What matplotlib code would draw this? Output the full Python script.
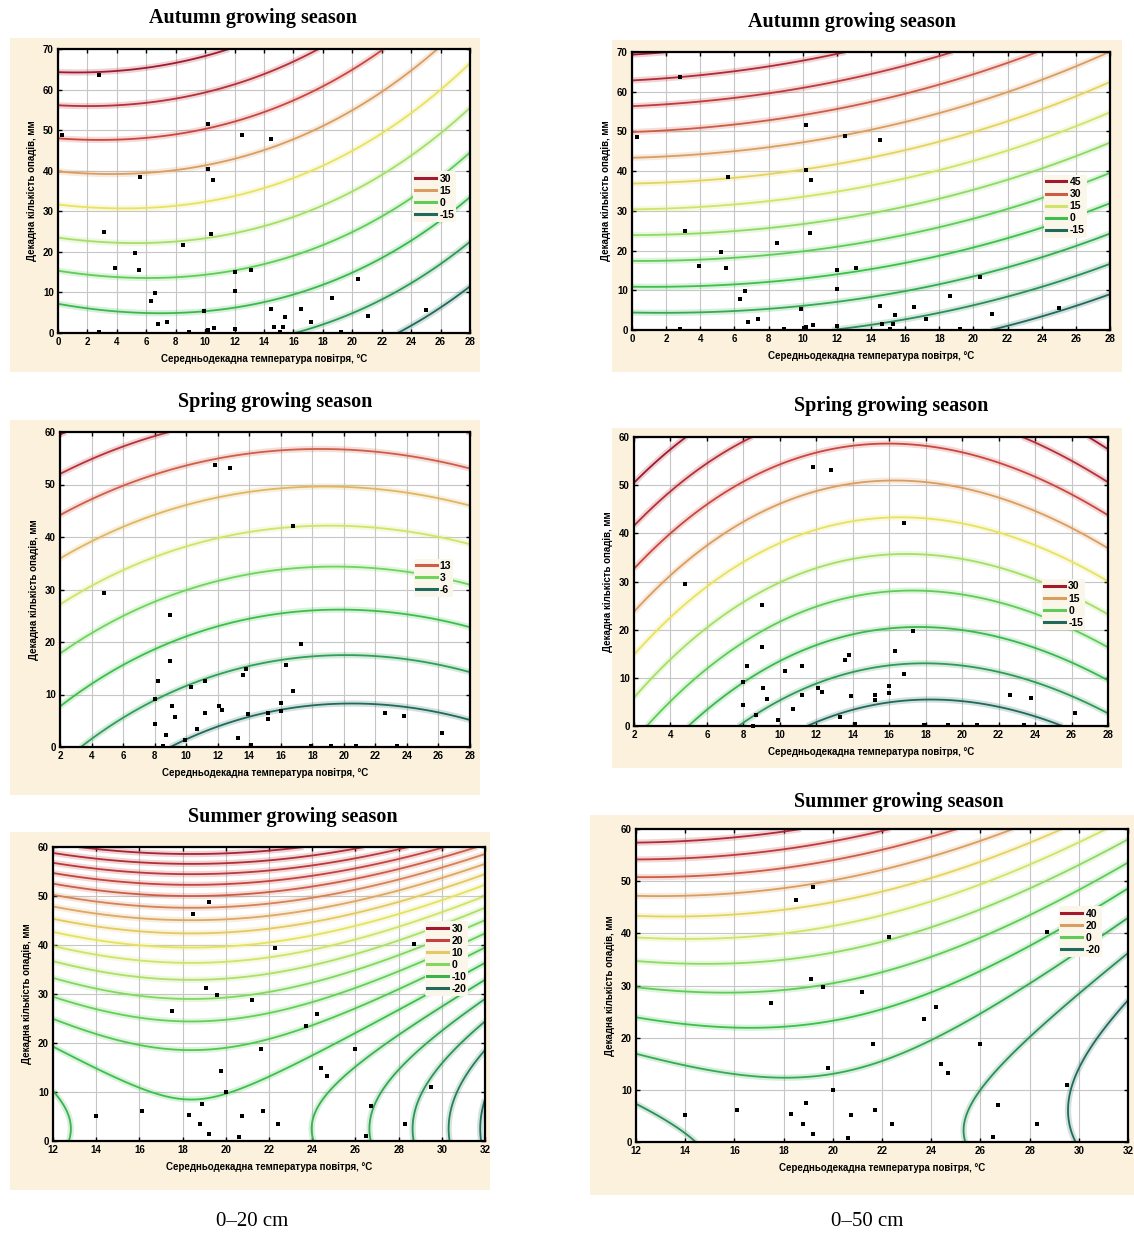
import numpy as np
import matplotlib.pyplot as plt
from matplotlib.colors import LinearSegmentedColormap
from matplotlib.lines import Line2D
from matplotlib.patches import Rectangle

W, H = 1134, 1238

# observed decades: mean air temperature (C) and precipitation (mm)
autumn_t = [0.3, 2.8, 2.8, 3.1, 3.9, 5.2, 5.5, 5.6, 6.3, 6.6, 6.8, 7.4, 8.5, 8.9, 9.9, 10.1, 10.2, 10.2, 10.2, 10.4,
            10.5, 10.6, 12.0, 12.0, 12.0, 12.5, 13.1, 14.5, 14.5, 14.65, 15.1, 15.3, 15.4, 16.5, 17.2, 18.6, 19.2, 20.4, 21.1, 25.0]
autumn_p = [48.7, 63.7, 0.2, 24.9, 16.1, 19.7, 15.6, 38.5, 7.8, 9.9, 2.1, 2.7, 21.8, 0.3, 5.3, 0.5, 0.8, 51.5, 40.3, 24.4,
            37.8, 1.3, 15.0, 10.4, 1.1, 48.9, 15.6, 47.9, 6.0, 1.6, 0.2, 1.6, 3.9, 5.8, 2.7, 8.6, 0.3, 13.3, 4.1, 5.6]
spring_t = [4.8, 8.0, 8.0, 8.2, 8.5, 8.7, 9.0, 9.0, 9.1, 9.3, 9.9, 10.3, 10.7, 11.2, 11.2, 11.8, 12.1, 12.3, 12.8, 13.3,
            13.6, 13.8, 13.9, 14.1, 15.2, 15.2, 16.0, 16.0, 16.3, 16.8, 16.8, 17.3, 17.9, 19.2, 20.8, 22.6, 23.4, 23.8, 26.2]
spring_p = [29.4, 9.1, 4.3, 12.5, 0.1, 2.3, 25.1, 16.3, 7.9, 5.7, 1.3, 11.5, 3.5, 12.5, 6.4, 53.8, 7.9, 7.0, 53.1, 1.8,
            13.75, 14.8, 6.2, 0.4, 6.5, 5.4, 8.4, 6.9, 15.6, 42.1, 10.7, 19.7, 0.2, 0.2, 0.2, 6.5, 0.2, 5.9, 2.7]
summer_t = [14.0, 16.1, 17.5, 18.3, 18.5, 18.8, 18.9, 19.1, 19.2, 19.2, 19.6, 19.8, 20.0, 20.6, 20.75, 21.2, 21.65, 21.7,
            22.3, 22.4, 23.7, 24.2, 24.4, 24.7, 26.0, 26.5, 26.7, 28.3, 28.7, 29.5]
summer_p = [5.2, 6.2, 26.6, 5.4, 46.4, 3.4, 7.5, 31.2, 48.8, 1.5, 29.8, 14.2, 10.0, 0.8, 5.2, 28.7, 18.8, 6.2,
            39.3, 3.4, 23.5, 25.9, 14.9, 13.2, 18.8, 1.0, 7.1, 3.4, 40.3, 11.0]

# response surfaces, terms: 1, t, p, t^2, t*p, p^2  (t = T/10, p = P/10)
coef_autumn_20 = [-9.41, 4.36, 6.13, -2.937, -0.566, 0.0]
coef_autumn_50 = [-8.39, 0.85, 7.70, -1.9, -0.411, 0.0]
coef_spring_20 = [-0.649, -8.006, 2.816, 1.92, 0.16, 0.128]
coef_spring_50 = [6.935, -27.676, 5.475, 7.48, 0.65, 0.0]
coef_summer_20 = [-30.717, 24.877, -0.563, -6.76, 0.0, 1.126]
coef_summer_50 = [-41.4724, 28.7778, 4.9210, -7.2279, -2.1501, 1.1814]

levels_autumn_20 = [-15, -10, -5, 0, 5, 10, 15, 20, 25, 30]
levels_autumn_50 = [-15, -10, -5, 0, 5, 10, 15, 20, 25, 30, 35, 40, 45]
levels_spring_20 = [-6.3, -3.1, 0.1, 3.3, 6.5, 9.7, 12.9, 16.1, 19.3]
levels_spring_50 = [-15, -10, -5, 0, 5, 10, 15, 20, 25, 30]
levels_summer_20 = [-20, -17.5, -15, -12.5, -10, -7.5, -5, -2.5, 0, 2.5, 5, 7.5, 10, 12.5, 15, 17.5, 20, 22.5, 25, 27.5, 30]
levels_summer_50 = [-20, -15, -10, -5, 0, 5, 10, 15, 20, 25, 30, 35, 40]

# legend entries (level, label)
legend_autumn_20 = [(30, '30'), (15, '15'), (0, '0'), (-15, '-15')]
legend_autumn_50 = [(45, '45'), (30, '30'), (15, '15'), (0, '0'), (-15, '-15')]
legend_spring_20 = [(12.9, '13'), (3.3, '3'), (-6.3, '-6')]
legend_spring_50 = [(30, '30'), (15, '15'), (0, '0'), (-15, '-15')]
legend_summer_20 = [(30, '30'), (20, '20'), (10, '10'), (0, '0'), (-10, '-10'), (-20, '-20')]
legend_summer_50 = [(40, '40'), (20, '20'), (0, '0'), (-20, '-20')]

cmap = LinearSegmentedColormap.from_list('iso', [
    (0.0, '#1f6a5c'), (0.12, '#2f9f55'), (0.25, '#3dbf4b'), (0.38, '#72d45e'), (0.48, '#c6e46c'),
    (0.56, '#e8e35f'), (0.66, '#dba262'), (0.78, '#c9473f'), (1.0, '#a2192f')])

XLAB = 'Середньодекадна температура повітря, °С'
YLAB = 'Декадна кількість опадів, мм'

plt.rcParams['font.family'] = ['Liberation Sans', 'DejaVu Sans']
fig = plt.figure(figsize=(W / 100, H / 100), dpi=100)
fig.patch.set_facecolor('white')


def surface(coef, T, P):
    t = T / 10
    p = P / 10
    c = coef
    return c[0] + c[1] * t + c[2] * p + c[3] * t * t + c[4] * t * p + c[5] * p * p


def panel(ax_px, bg_px, title, title_xy, xr, yr, coef, levels, legend_items, leg_y, pts_t, pts_p):
    # cream plate behind the chart
    l, r, t, b = bg_px
    fig.add_artist(Rectangle((l / W, 1 - b / H), (r - l) / W, (b - t) / H, transform=fig.transFigure,
                             facecolor='#fbf1dc', edgecolor='none', zorder=0))
    l, r, t, b = ax_px
    ax = fig.add_axes([l / W, 1 - b / H, (r - l) / W, (b - t) / H])
    ax.set_facecolor('white')

    T, P = np.meshgrid(np.linspace(xr[0], xr[1], 300), np.linspace(yr[0], yr[1], 300))
    Z = surface(coef, T, P)
    norm = plt.Normalize(min(levels), max(levels))
    cols = [cmap(norm(v)) for v in levels]
    ax.contour(T, P, Z, levels=levels, colors=cols, linewidths=4.5, alpha=0.2)
    ax.contour(T, P, Z, levels=levels, colors=cols, linewidths=1.3)
    ax.scatter(pts_t, pts_p, s=6, marker='s', color='black', zorder=5, clip_on=False, linewidths=0)

    ax.set_xlim(xr)
    ax.set_ylim(yr)
    ax.set_xticks(np.arange(xr[0], xr[1] + 0.1, 2))
    ax.set_yticks(np.arange(yr[0], yr[1] + 0.1, 10))
    ax.grid(color='#c6c6c6', lw=0.8)
    ax.set_axisbelow(True)
    for s in ax.spines.values():
        s.set_linewidth(1.6)
    ax.tick_params(direction='in', length=3, width=1, top=True, right=True, labelsize=7, pad=3)
    for lab in ax.get_xticklabels() + ax.get_yticklabels():
        lab.set_fontweight('bold')
    ax.set_xlabel(XLAB, fontsize=7, fontweight='bold', labelpad=5)
    ax.set_ylabel(YLAB, fontsize=7, fontweight='bold', labelpad=4)

    handles = [Line2D([], [], color=cmap(norm(v)), lw=2.2) for v, _ in legend_items]
    leg = ax.legend(handles, [s for _, s in legend_items], loc='center left', bbox_to_anchor=(0.85, leg_y),
                    frameon=True, facecolor='#fbf6ea', edgecolor='none', framealpha=1, borderpad=0.2,
                    prop=dict(weight='bold', size=7.5), handlelength=2.0, handletextpad=0.3, labelspacing=0.2)
    leg.set_zorder(6)
    fig.text(title_xy[0] / W, 1 - title_xy[1] / H, title, ha='center', va='center',
             family='Liberation Serif', fontweight='bold', fontsize=14.5)
    return ax


panel((58, 470, 49, 333), (10, 480, 38, 372), 'Autumn growing season', (253, 18), (0, 28), (0, 70),
      coef_autumn_20, levels_autumn_20, legend_autumn_20, 0.48, autumn_t, autumn_p)
panel((632, 1110, 52, 330), (612, 1122, 40, 372), 'Autumn growing season', (852, 22), (0, 28), (0, 70),
      coef_autumn_50, levels_autumn_50, legend_autumn_50, 0.445, autumn_t, autumn_p)
panel((60, 470, 432, 747), (10, 480, 420, 795), 'Spring growing season', (275, 402), (2, 28), (0, 60),
      coef_spring_20, levels_spring_20, legend_spring_20, 0.537, spring_t, spring_p)
panel((634, 1108, 437, 726), (612, 1122, 428, 768), 'Spring growing season', (891, 406), (2, 28), (0, 60),
      coef_spring_50, levels_spring_50, legend_spring_50, 0.42, spring_t, spring_p)
panel((53, 485, 847, 1141), (10, 490, 832, 1190), 'Summer growing season', (293, 817), (12, 32), (0, 60),
      coef_summer_20, levels_summer_20, legend_summer_20, 0.62, summer_t, summer_p)
panel((636, 1128, 829, 1142), (590, 1134, 815, 1195), 'Summer growing season', (899, 802), (12, 32), (0, 60),
      coef_summer_50, levels_summer_50, legend_summer_50, 0.672, summer_t, summer_p)

fig.text(252 / W, 1 - 1222 / H, '0–20 cm', ha='center', va='center', family='Liberation Serif', fontsize=15)
fig.text(867 / W, 1 - 1222 / H, '0–50 cm', ha='center', va='center', family='Liberation Serif', fontsize=15)

fig.savefig('out.png', dpi=100)
